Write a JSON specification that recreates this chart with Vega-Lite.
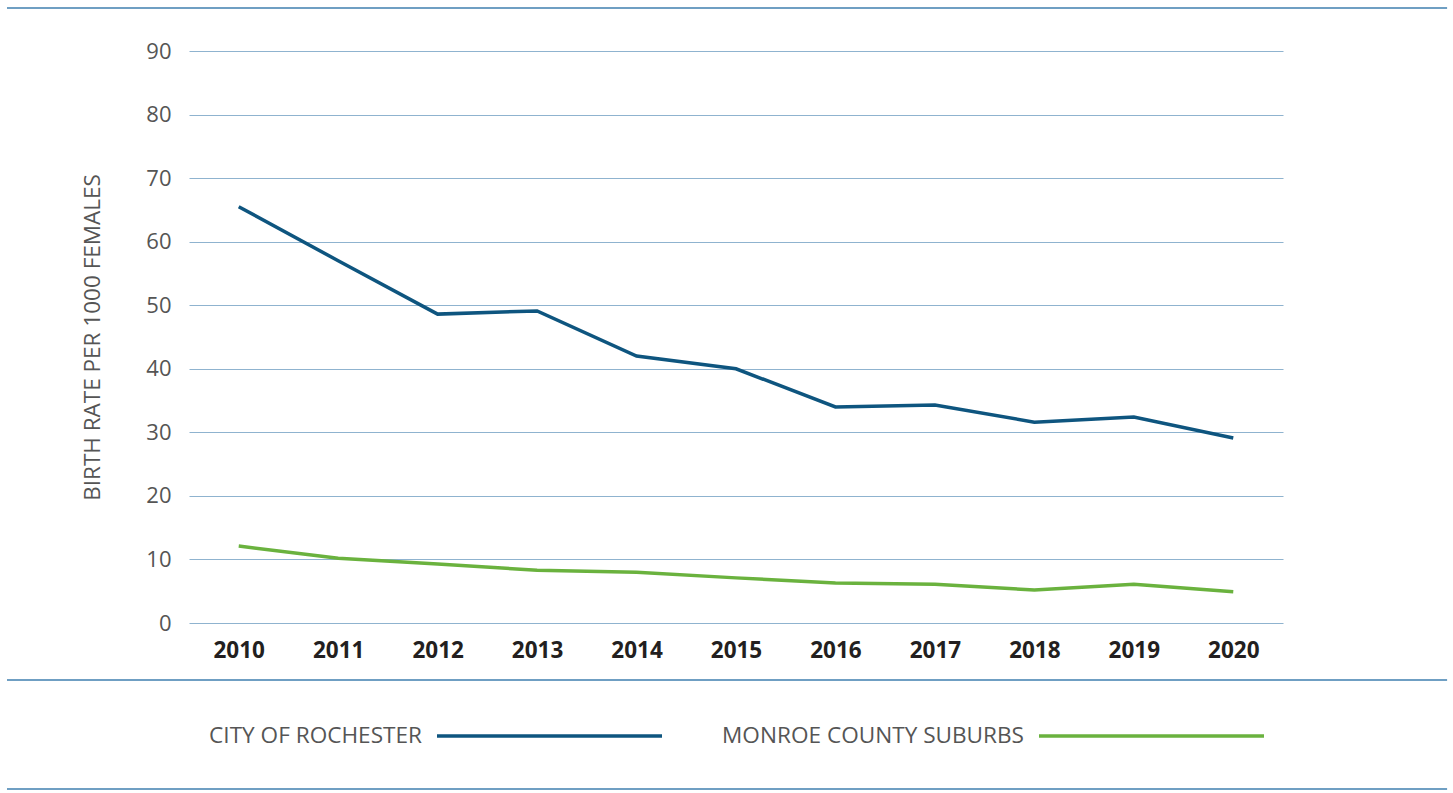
{
  "$schema": "https://vega.github.io/schema/vega-lite/v6.json",
  "width": 1094,
  "height": 572,
  "autosize": "none",
  "padding": {"left": 189, "top": 51, "right": 170, "bottom": 170},
  "config": {"view": {"stroke": null}, "font": "Open Sans"},
  "layer": [
    {
      "data": {
        "values": [
          {"year": 2010, "series": "CITY OF ROCHESTER", "rate": 65.5},
          {"year": 2011, "series": "CITY OF ROCHESTER", "rate": 57.0},
          {"year": 2012, "series": "CITY OF ROCHESTER", "rate": 48.6},
          {"year": 2013, "series": "CITY OF ROCHESTER", "rate": 49.1},
          {"year": 2014, "series": "CITY OF ROCHESTER", "rate": 42.0},
          {"year": 2015, "series": "CITY OF ROCHESTER", "rate": 40.0},
          {"year": 2016, "series": "CITY OF ROCHESTER", "rate": 34.0},
          {"year": 2017, "series": "CITY OF ROCHESTER", "rate": 34.3},
          {"year": 2018, "series": "CITY OF ROCHESTER", "rate": 31.6},
          {"year": 2019, "series": "CITY OF ROCHESTER", "rate": 32.4},
          {"year": 2020, "series": "CITY OF ROCHESTER", "rate": 29.1},
          {"year": 2010, "series": "MONROE COUNTY SUBURBS", "rate": 12.1},
          {"year": 2011, "series": "MONROE COUNTY SUBURBS", "rate": 10.2},
          {"year": 2012, "series": "MONROE COUNTY SUBURBS", "rate": 9.3},
          {"year": 2013, "series": "MONROE COUNTY SUBURBS", "rate": 8.3},
          {"year": 2014, "series": "MONROE COUNTY SUBURBS", "rate": 8.0},
          {"year": 2015, "series": "MONROE COUNTY SUBURBS", "rate": 7.1},
          {"year": 2016, "series": "MONROE COUNTY SUBURBS", "rate": 6.3},
          {"year": 2017, "series": "MONROE COUNTY SUBURBS", "rate": 6.1},
          {"year": 2018, "series": "MONROE COUNTY SUBURBS", "rate": 5.2},
          {"year": 2019, "series": "MONROE COUNTY SUBURBS", "rate": 6.1},
          {"year": 2020, "series": "MONROE COUNTY SUBURBS", "rate": 4.9}
        ]
      },
      "mark": {"type": "line", "strokeWidth": 3.5},
      "encoding": {
        "x": {
          "field": "year",
          "type": "quantitative",
          "scale": {"domain": [2009.5, 2020.5], "nice": false, "zero": false},
          "axis": {
            "values": [2010, 2011, 2012, 2013, 2014, 2015, 2016, 2017, 2018, 2019, 2020],
            "format": "d",
            "grid": false,
            "domain": false,
            "ticks": false,
            "labelFontSize": 22.5,
            "labelFontWeight": "bold",
            "labelColor": "#231f20",
            "labelPadding": 16,
            "title": null
          }
        },
        "y": {
          "field": "rate",
          "type": "quantitative",
          "scale": {"domain": [0, 90], "nice": false},
          "axis": {
            "values": [0, 10, 20, 30, 40, 50, 60, 70, 80, 90],
            "grid": true,
            "gridColor": "#8fb3cf",
            "gridWidth": 1,
            "domain": false,
            "ticks": false,
            "labelFontSize": 22,
            "labelColor": "#555555",
            "labelPadding": 18,
            "title": "BIRTH RATE PER 1000 FEMALES",
            "titleFontSize": 22.5,
            "titleFontWeight": "normal",
            "titleColor": "#555555",
            "titlePadding": 41
          }
        },
        "color": {
          "field": "series",
          "type": "nominal",
          "scale": {"domain": ["CITY OF ROCHESTER", "MONROE COUNTY SUBURBS"], "range": ["#0e557f", "#6ab23e"]},
          "legend": {
            "title": null,
            "orient": "none",
            "direction": "horizontal",
            "legendX": 246,
            "legendY": 570,
            "symbolType": "stroke",
            "symbolSize": 50625,
            "symbolStrokeWidth": 3.5,
            "labelAlign": "right",
            "labelOffset": -242,
            "labelFontSize": 22.6,
            "labelColor": "#555555",
            "labelLimit": 400,
            "columnPadding": 53
          }
        }
      }
    },
    {
      "data": {"values": [{}]},
      "mark": {"type": "rule", "color": "#6f9fc3", "strokeWidth": 2},
      "encoding": {"x": {"datum": 2007.67}, "x2": {"datum": 2022.15}, "y": {"datum": 96.77}}
    },
    {
      "data": {"values": [{}]},
      "mark": {"type": "rule", "color": "#6f9fc3", "strokeWidth": 2},
      "encoding": {"x": {"datum": 2007.67}, "x2": {"datum": 2022.15}, "y": {"datum": -8.97}}
    },
    {
      "data": {"values": [{}]},
      "mark": {"type": "rule", "color": "#6f9fc3", "strokeWidth": 2},
      "encoding": {"x": {"datum": 2007.67}, "x2": {"datum": 2022.15}, "y": {"datum": -26.12}}
    }
  ]
}
